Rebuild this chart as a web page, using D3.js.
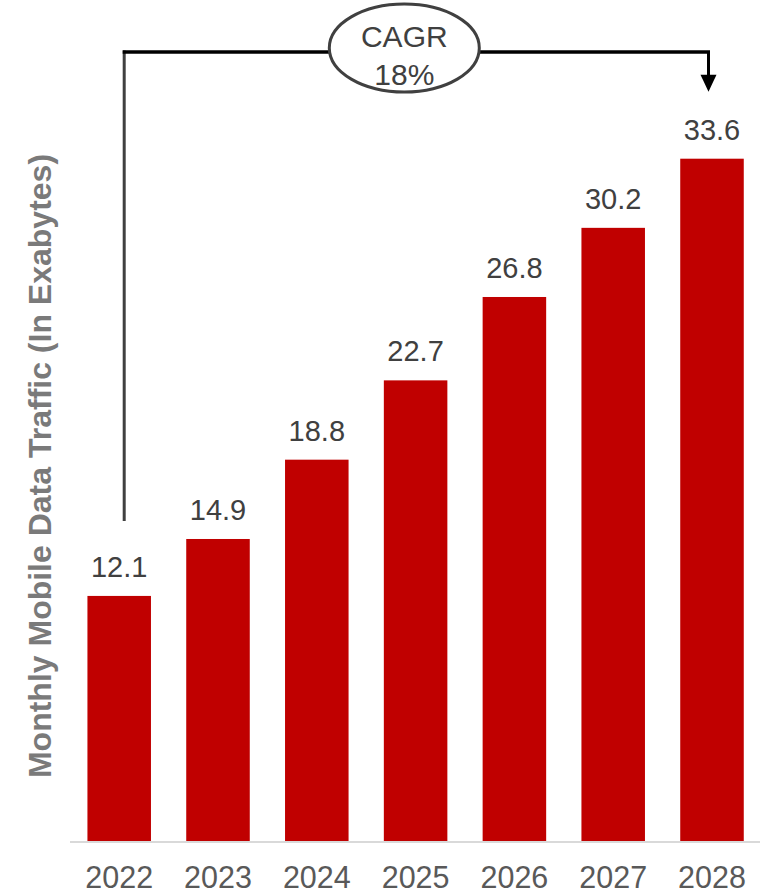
<!DOCTYPE html>
<html>
<head>
<meta charset="utf-8">
<script src="https://cdn.jsdelivr.net/npm/d3@7"></script>
<style>
  html, body { margin: 0; padding: 0; background: #fff; }
  svg { display: block; }
  text { font-family: "Liberation Sans", Arial, sans-serif; }
</style>
</head>
<body>
<svg id="chart" width="762" height="896"></svg>
<script>
const years = ["2022", "2023", "2024", "2025", "2026", "2027", "2028"];
const traffic = [12.1, 14.9, 18.8, 22.7, 26.8, 30.2, 33.6];
const valueLabels = ["12.1", "14.9", "18.8", "22.7", "26.8", "30.2", "33.6"];
const yTitle = "Monthly Mobile Data Traffic (In Exabytes)";
const cagrLines = ["CAGR", "18%"];

const svg = d3.select("#chart");

const x = d3.scaleBand()
  .domain(years)
  .range([69.8, 761.4])
  .paddingInner(0.357)
  .paddingOuter(0.1785);

const y = d3.scaleLinear()
  .domain([0, 33.6])
  .range([842, 158.7]);

// bars
svg.append("g").selectAll("rect")
  .data(years)
  .join("rect")
  .attr("x", d => x(d))
  .attr("width", x.bandwidth())
  .attr("y", (d, i) => y(traffic[i]))
  .attr("height", (d, i) => y(0) - y(traffic[i]))
  .attr("fill", "#c00000");

// baseline axis
const xAxis = d3.axisBottom(x).tickSize(0).tickPadding(24);
const gx = svg.append("g")
  .attr("transform", `translate(0,${y(0)})`)
  .call(xAxis);
gx.select(".domain")
  .attr("d", `M70,0H760`)
  .attr("stroke", "#d9d9d9")
  .attr("stroke-width", 2);
gx.selectAll(".tick text")
  .attr("font-size", 30.5)
  .attr("fill", "#595959")
  .attr("font-family", "Liberation Sans, Arial, sans-serif")
  .attr("dy", "0.72em");

// value labels
svg.append("g").selectAll("text")
  .data(years)
  .join("text")
  .attr("x", d => x(d) + x.bandwidth() / 2)
  .attr("y", (d, i) => y(traffic[i]) - 19)
  .attr("text-anchor", "middle")
  .attr("font-size", 29)
  .attr("fill", "#404040")
  .text((d, i) => valueLabels[i]);

// y title
svg.append("text")
  .attr("transform", "translate(50.5,466) rotate(-90)")
  .attr("text-anchor", "middle")
  .attr("font-size", 32)
  .attr("font-weight", "bold")
  .attr("fill", "#7a7a7a")
  .text(yTitle);

// CAGR annotation
const first = years[0], last = years[years.length - 1];
const xL = x(first) + x.bandwidth() / 2 + 5;
const xR = x(last) + x.bandwidth() / 2 - 3.5;
const yTop = 52;
const yStart = y(traffic[0]) - 75;
const yTip = y(traffic[traffic.length - 1]) - 67;

svg.append("line")
  .attr("x1", xL).attr("x2", xL)
  .attr("y1", yStart).attr("y2", yTop - 1.5)
  .attr("stroke", "#404040").attr("stroke-width", 3);
svg.append("line")
  .attr("x1", xL - 1.5).attr("x2", xR + 1.5)
  .attr("y1", yTop).attr("y2", yTop)
  .attr("stroke", "#000").attr("stroke-width", 3.5);
svg.append("line")
  .attr("x1", xR).attr("x2", xR)
  .attr("y1", yTop).attr("y2", yTip - 14)
  .attr("stroke", "#000").attr("stroke-width", 3);
svg.append("path")
  .attr("d", `M${xR - 8},${yTip - 17}L${xR + 8},${yTip - 17}L${xR},${yTip}Z`)
  .attr("fill", "#000");

const cx = 404.3;
svg.append("ellipse")
  .attr("cx", cx).attr("cy", 48)
  .attr("rx", 75).attr("ry", 44)
  .attr("fill", "#fff")
  .attr("stroke", "#404040")
  .attr("stroke-width", 3);
svg.append("g").selectAll("text")
  .data(cagrLines)
  .join("text")
  .attr("x", cx)
  .attr("y", (d, i) => 46.7 + i * 38.5)
  .attr("text-anchor", "middle")
  .attr("font-size", 30)
  .attr("fill", "#404040")
  .text(d => d);
</script>
</body>
</html>
